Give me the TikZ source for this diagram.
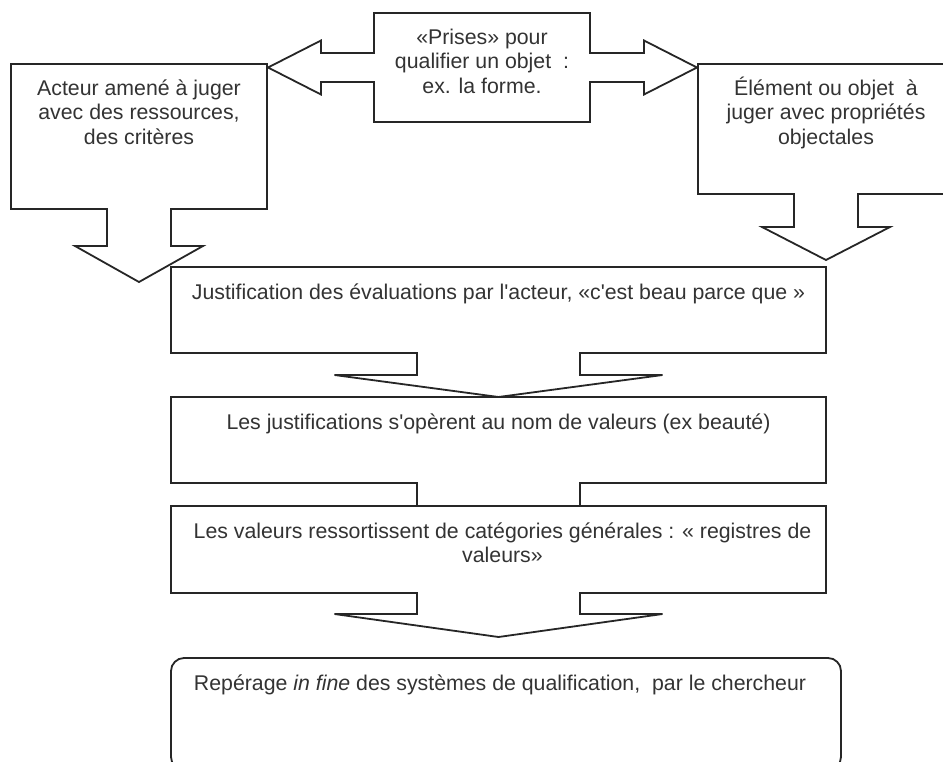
\documentclass[tikz,border=0pt]{standalone}
\usepackage{fontspec}
\setmainfont{Liberation Sans}
\usetikzlibrary{positioning,calc}

% block arrow going down from a box edge: #1 start, #2 stem half, #3 stem length, #4 head half, #5 head length, #6 tip name
\newcommand{\downblock}[6]{%
  \fill[white] ($(#1)+(-#2,-1.5)$) -- ++(0,#3+1.5) -- ++(#2-#4,0) -- ++(#4,#5) coordinate (#6) -- ++(#4,-#5) -- ++(#2-#4,0) -- ++(0,-#3-1.5) -- cycle;
  \draw[blockline] ($(#1)+(-#2,-0.9)$) -- ++(0,#3+0.9) -- ++(#2-#4,0) -- (#6) -- ++(#4,-#5) -- ++(#2-#4,0) -- ++(0,-#3-0.9);
}
% block arrow going sideways: #1 start, #2 direction (1 or -1), #3 stem half, #4 stem length, #5 head half, #6 head length, #7 tip name
\newcommand{\sideblock}[7]{%
  \fill[white] ($(#1)+({-1.5*(#2)},-#3)$) -- ++({(#2)*#4+1.5*(#2)},0) -- ++(0,#3-#5) -- ++({(#2)*#6},#5) coordinate (#7) -- ++({-(#2)*#6},#5) -- ++(0,#3-#5) -- ++({-(#2)*#4-1.5*(#2)},0) -- cycle;
  \draw[blockline] ($(#1)+({-0.9*(#2)},-#3)$) -- ++({(#2)*#4+0.9*(#2)},0) -- ++(0,#3-#5) -- (#7) -- ++({-(#2)*#6},#5) -- ++(0,#3-#5) -- ++({-(#2)*#4-0.9*(#2)},0);
}

\begin{document}
\begin{tikzpicture}[x=1pt, y=-1pt]
% STYLES
\tikzset{%
    box/.style={%
draw=black!85,
line width=1.8pt,
fill=white,
inner sep=0pt,
outer sep=0pt
               },
    txt/.style={%
font=\fontsize{21.3}{24.5}\selectfont,
text=black!80,
align=center,
inner sep=0pt,
anchor=base
               },
    blockline/.style={draw=black!85, line width=1.8pt}
         }
\useasboundingbox (0,0) rectangle (943,761);
\clip (0,0) rectangle (943,761);

% Draw boxes
\node [box, minimum width=256pt, minimum height=145pt] (acteur) at (139,136.5) {};
\node [box, minimum width=216pt, minimum height=109pt] (prises) at (482,67.5) {};
\node [box, minimum width=256pt, minimum height=130pt] (element) at (826,129) {};
\node [box, minimum width=655pt, minimum height=86pt] (justif) at (498.5,310) {};
\node [box, minimum width=655pt, minimum height=86pt, below=44pt of justif] (valnom) {};
\node [box, minimum width=655pt, minimum height=87pt, below=23pt of valnom] (registres) {};
\node [box, rounded corners=13pt, minimum width=670pt, minimum height=112pt, below=65pt of registres, xshift=7.5pt] (reperage) {};

% Texts (base = last line)
\node [txt] (acteur-t) at ($(acteur.north)+(0,80)$) {Acteur amené à juger\\avec des ressources,\\des critères};
\node [txt] (prises-t) at ($(prises.north)+(0,80)$) {«Prises» pour\\qualifier un objet~ :\\ex. la forme.};
\node [txt] (element-t) at ($(element.north)+(0,80)$) {Élément ou objet~ à\\juger avec propriétés\\objectales};
\node [txt] (justif-t) at ($(justif.north)+(0,32)$) {Justification des évaluations par l\textquotesingle acteur, «c\textquotesingle est beau parce que »};
\node [txt] (valnom-t) at ($(valnom.north)+(0,32)$) {Les justifications s\textquotesingle opèrent au nom de valeurs (ex beauté)};
\node [txt] (registres-t) at ($(registres.north)+(4,56.5)$) {Les valeurs ressortissent de catégories générales : « registres de\\valeurs»};
\node [txt] (reperage-t) at ($(reperage.north)+(-6,32)$) {Repérage \textit{in fine} des systèmes de qualification,~ par le chercheur};

% Draw the block arrows
\sideblock{prises.west}{-1}{14.5}{53}{27}{53}{tip-acteur}
\sideblock{prises.east}{1}{14.5}{54}{27}{53}{tip-element}
\downblock{acteur.south}{32}{37}{64}{36}{tip-a}
\downblock{element.south}{32}{33}{64}{33}{tip-e}
\downblock{justif.south}{81.5}{22}{164}{22}{tip-j}
\fill[white] ($(valnom.south)+(-81.5,-1.5)$) rectangle ($(registres.north)+(81.5,-1)$);
\draw[blockline] ($(valnom.south)+(-81.5,-0.9)$) -- ($(registres.north)+(-81.5,0)$)
                 ($(valnom.south)+(81.5,-0.9)$) -- ($(registres.north)+(81.5,0)$);
\downblock{registres.south}{81.5}{21}{164}{23}{tip-r}
\end{tikzpicture}
\end{document}
